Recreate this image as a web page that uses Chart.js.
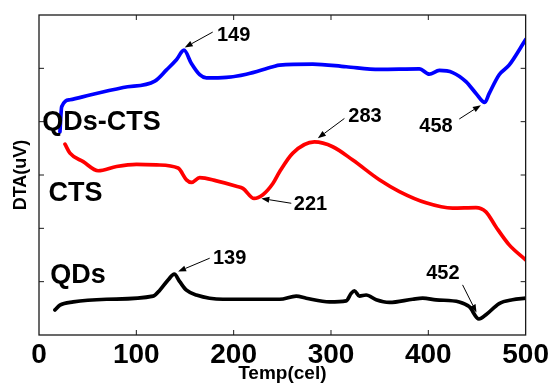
<!DOCTYPE html>
<html>
<head>
<meta charset="utf-8">
<script src="https://cdn.jsdelivr.net/npm/chart.js@4.4.1/dist/chart.umd.min.js"></script>
<style>
html,body{margin:0;padding:0;background:#fff;}
#wrap{width:552px;height:383px;position:relative;}
</style>
</head>
<body>
<div id="wrap"><canvas id="c" width="552" height="383"></canvas></div>
<script>
// ---- data (temperature in cel, DTA in arbitrary uV offsets) ----
const xTickValues = [0, 100, 200, 300, 400, 500];
const yTickValues = [0, 1, 2, 3, 4, 5, 6];

const qdsCtsX = [21.5, 23.3, 31.8, 52.3, 86.5, 119, 131, 141.2, 149, 156.6, 165.1, 172, 192.5, 213, 240.3, 247.2, 281.3, 315.6, 349.7, 390.8, 401, 411.3, 425, 438.7, 449, 458, 462.6, 472.8, 483, 500];
const qdsCtsY = [3.81, 4.28, 4.41, 4.50, 4.64, 4.76, 4.97, 5.16, 5.34, 5.09, 4.88, 4.82, 4.83, 4.89, 5.03, 5.06, 5.08, 5.03, 4.98, 4.99, 4.89, 4.96, 4.92, 4.75, 4.53, 4.36, 4.53, 4.88, 5.06, 5.54];

const ctsX = [26.7, 31.8, 45.4, 60.8, 79.7, 100.2, 120.7, 142.9, 151.5, 156.6, 165.1, 182.3, 202.8, 209.5, 221, 230, 240.3, 247.2, 260.8, 283, 301.8, 322.4, 349.7, 370.3, 397.6, 424.9, 448.9, 459.2, 469.4, 483.1, 500];
const ctsY = [3.58, 3.41, 3.25, 3.08, 3.16, 3.20, 3.19, 3.13, 2.91, 2.86, 2.95, 2.89, 2.79, 2.75, 2.56, 2.63, 2.84, 3.06, 3.41, 3.62, 3.53, 3.28, 2.91, 2.69, 2.48, 2.38, 2.39, 2.31, 2.03, 1.69, 1.41];

const qdsX = [16.4, 21.5, 35.2, 69.4, 117.2, 124.1, 132.6, 139, 144.6, 151.5, 161.7, 189, 223.3, 247.2, 264.3, 274.6, 298.5, 315.6, 320.7, 324.1, 329.2, 336.1, 346.4, 360, 383.9, 394.2, 407.9, 431.8, 442.1, 452, 459.2, 472.8, 486.5, 500];
const qdsY = [0.47, 0.56, 0.62, 0.67, 0.73, 0.84, 1.03, 1.14, 1.00, 0.84, 0.75, 0.67, 0.67, 0.67, 0.73, 0.69, 0.62, 0.64, 0.78, 0.83, 0.73, 0.75, 0.66, 0.61, 0.67, 0.69, 0.66, 0.62, 0.53, 0.30, 0.38, 0.59, 0.66, 0.69];

// series name labels (text, x, y in data units)
const seriesLabelText = ['QDs-CTS', 'CTS', 'QDs'];
const seriesLabelX = [64.3, 37.4, 40];
const seriesLabelY = [3.98, 2.66, 1.11];

// peak annotations: text, text position, arrow start, arrow tip (data units)
const peakText = ['149', '458', '283', '221', '139', '452'];
const peakTextX = [200, 407.9, 334.9, 279, 195.9, 415];
const peakTextY = [5.61, 3.91, 4.09, 2.44, 1.44, 1.16];
const arrowFromX = [178.5, 431.8, 313.8, 259.2, 175.4, 435.2];
const arrowFromY = [5.68, 4.05, 4.06, 2.47, 1.44, 0.94];
const arrowToX = [149.7, 454, 286.5, 228.4, 142.9, 449.5];
const arrowToY = [5.39, 4.31, 3.69, 2.56, 1.19, 0.42];

const toPts = (xs, ys) => xs.map((x, i) => ({x: x, y: ys[i]}));

const FONT = "'Liberation Sans', Arial, Helvetica, sans-serif";

const framePlugin = {
  id: 'frame',
  afterDraw(chart) {
    const ctx = chart.ctx, a = chart.chartArea;
    const xs = chart.scales.x, ys = chart.scales.y;
    ctx.save();
    ctx.strokeStyle = '#1a1a1a';
    ctx.lineWidth = 1.3;
    ctx.strokeRect(a.left, a.top, a.right - a.left, a.bottom - a.top);
    const tl = 5;
    ctx.lineWidth = 1;
    ctx.beginPath();
    xTickValues.forEach(v => {
      if (v === xs.min || v === xs.max) return;
      const px = xs.getPixelForValue(v);
      ctx.moveTo(px, a.bottom); ctx.lineTo(px, a.bottom - tl);
      ctx.moveTo(px, a.top); ctx.lineTo(px, a.top + tl);
    });
    yTickValues.forEach(v => {
      if (v === ys.min || v === ys.max) return;
      const py = ys.getPixelForValue(v);
      ctx.moveTo(a.left, py); ctx.lineTo(a.left + tl, py);
      ctx.moveTo(a.right, py); ctx.lineTo(a.right - tl, py);
    });
    ctx.stroke();

    // series labels
    ctx.fillStyle = '#000';
    ctx.textAlign = 'center';
    ctx.textBaseline = 'middle';
    ctx.font = 'bold 27px ' + FONT;
    seriesLabelText.forEach((t, i) => {
      ctx.fillText(t, xs.getPixelForValue(seriesLabelX[i]), ys.getPixelForValue(seriesLabelY[i]));
    });
    // peak labels
    ctx.font = 'bold 20px ' + FONT;
    peakText.forEach((t, i) => {
      ctx.fillText(t, xs.getPixelForValue(peakTextX[i]), ys.getPixelForValue(peakTextY[i]));
    });
    // arrows
    ctx.strokeStyle = '#000';
    ctx.lineWidth = 1;
    peakText.forEach((t, i) => {
      const x1 = xs.getPixelForValue(arrowFromX[i]), y1 = ys.getPixelForValue(arrowFromY[i]);
      const x2 = xs.getPixelForValue(arrowToX[i]), y2 = ys.getPixelForValue(arrowToY[i]);
      const ang = Math.atan2(y2 - y1, x2 - x1);
      const hl = 8, hw = 3;
      const bx = x2 - hl * Math.cos(ang), by = y2 - hl * Math.sin(ang);
      ctx.beginPath();
      ctx.moveTo(x1, y1); ctx.lineTo(bx, by);
      ctx.stroke();
      ctx.beginPath();
      ctx.moveTo(x2, y2);
      ctx.lineTo(bx + hw * Math.sin(ang), by - hw * Math.cos(ang));
      ctx.lineTo(bx - hw * Math.sin(ang), by + hw * Math.cos(ang));
      ctx.closePath();
      ctx.fill();
    });
    ctx.restore();
  }
};

const common = {pointRadius: 0, borderWidth: 3.7, fill: false, cubicInterpolationMode: 'monotone', borderCapStyle: 'round', borderJoinStyle: 'round'};

new Chart(document.getElementById('c'), {
  type: 'line',
  data: {
    datasets: [
      Object.assign({label: 'QDs-CTS', data: toPts(qdsCtsX, qdsCtsY), borderColor: '#0000ff'}, common),
      Object.assign({label: 'CTS', data: toPts(ctsX, ctsY), borderColor: '#ff0000'}, common),
      Object.assign({label: 'QDs', data: toPts(qdsX, qdsY), borderColor: '#000000'}, common)
    ]
  },
  options: {
    responsive: false,
    animation: false,
    events: [],
    layout: {padding: {left: 0, right: 25.5, top: 15, bottom: 0}},
    plugins: {legend: {display: false}, tooltip: {enabled: false}},
    scales: {
      x: {
        type: 'linear', min: 0, max: 500,
        afterBuildTicks(s) { s.ticks = xTickValues.map(v => ({value: v})); },
        afterFit(s) { s.height = 48; },
        ticks: {color: '#000', font: {family: FONT, size: 28, weight: 'bold'}, padding: 3, maxRotation: 0, autoSkip: false},
        grid: {display: false, drawTicks: false},
        border: {display: false},
        title: {display: true, text: 'Temp(cel)', color: '#000', font: {family: FONT, size: 19, weight: 'bold', lineHeight: 1}, padding: {top: 0, bottom: 0}}
      },
      y: {
        type: 'linear', min: 0, max: 6,
        afterBuildTicks(s) { s.ticks = yTickValues.map(v => ({value: v})); },
        afterFit(s) { s.width = 39; },
        ticks: {display: false},
        grid: {display: false, drawTicks: false},
        border: {display: false},
        title: {display: true, text: 'DTA(uV)', color: '#000', font: {family: FONT, size: 18, weight: 'bold'}, padding: {top: 10, bottom: 0}}
      }
    }
  },
  plugins: [framePlugin]
});
</script>
</body>
</html>
